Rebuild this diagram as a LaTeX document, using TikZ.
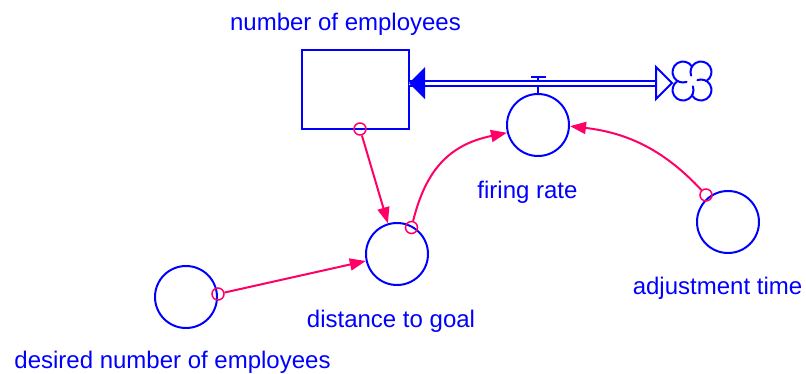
\documentclass[tikz,border=0pt]{standalone}
\usepackage{fontspec}
\setmainfont{Liberation Sans}
\usetikzlibrary{arrows.meta}
\definecolor{vblue}{RGB}{0,0,255}
\definecolor{vpink}{RGB}{255,0,102}
\begin{document}
\begin{tikzpicture}[x=1pt,y=-1pt,
  aux/.style={circle,draw=vblue,line width=2pt,minimum size=62pt,inner sep=0pt},
  stockbox/.style={draw=vblue,line width=2pt,minimum width=107pt,minimum height=79pt,inner sep=0pt},
  lbl/.style={text=vblue,font=\fontsize{24}{28}\selectfont,anchor=base,inner sep=0pt},
  origin/.style={circle,draw=vpink,line width=1.5pt,minimum size=12pt,inner sep=0pt},
  link/.style={draw=vpink,line width=2pt,-{Triangle[length=16pt,width=12pt]}},
  pipe/.style={draw=vblue,line width=2pt,double=white,double distance=3pt},
  bluel/.style={draw=vblue,line width=2pt},
]
\useasboundingbox (0,0) rectangle (806,373);
% stock and auxiliaries
\node[stockbox] (stock) at (355.5,89.5) {};
\node[aux] (fr) at (538,125) {};
\node[aux] (dist) at (397,254) {};
\node[aux] (desired) at (186,297) {};
\node[aux] (adj) at (728,222) {};
% labels
\node[lbl] (tstock) at (345.5,30) {number of employees};
\node[lbl] (tfr) at (527.5,198) {firing rate};
\node[lbl] (tadj) at (717.5,294) {adjustment time};
\node[lbl] (tdist) at (391,327) {distance to goal};
\node[lbl] (tdes) at (172.5,368) {desired number of employees};
% valve
\coordinate (valvetop) at (538,77);
\draw[bluel] (fr.north) -- (valvetop);
\draw[bluel] (531,77) -- (546,77);
% pipe
\coordinate (pipeL) at (409,83);
\coordinate (pipeR) at (656,83);
\draw[pipe] (pipeL) -- (pipeR);
\fill[vblue] (pipeL) -- ++(16,-16) -- ++(0,32) -- cycle;
\draw[bluel,fill=white,line join=miter] (656,67) -- (672,83) -- (656,99) -- cycle;
% cloud
\coordinate (cloud) at (692,81);
\draw[bluel,line cap=round] (692.0,66.6) arc[start angle=31,end angle=290,radius=10.5pt];
\draw[bluel,line cap=round] (677.6,81.0) arc[start angle=121,end angle=380,radius=10.5pt];
\draw[bluel,line cap=round] (692.0,95.4) arc[start angle=211,end angle=470,radius=10.5pt];
\draw[bluel,line cap=round] (706.4,81.0) arc[start angle=301,end angle=560,radius=10.5pt];
% links
\node[origin] (o1) at (360,129) {};
\draw[link] (o1) -- (dist);
\node[origin] (o2) at (218,294) {};
\draw[link] (o2) -- (dist);
\node[origin] (o3) at (411.5,227.5) {};
\draw[link] (o3) .. controls (426,169) and (450,144.5) .. (fr.194);
\node[origin] (o4) at (706,195) {};
\draw[link] (o4) .. controls (665,151) and (629,133) .. (fr.358);
\end{tikzpicture}
\end{document}
